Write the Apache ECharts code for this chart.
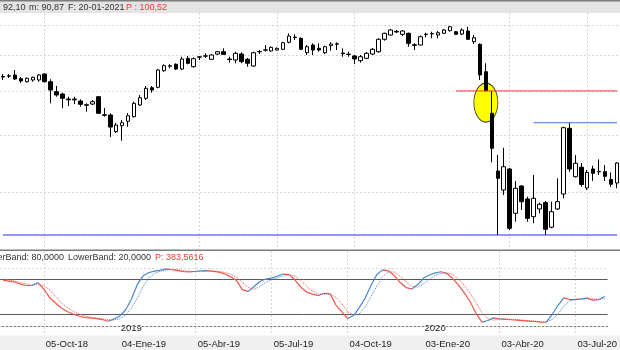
<!DOCTYPE html>
<html><head><meta charset="utf-8">
<script src="https://cdn.jsdelivr.net/npm/echarts@6/dist/echarts.min.js"></script>
<style>html,body{margin:0;padding:0;background:#fff}#c{width:620px;height:350px}</style>
</head><body><div id="c"></div>
<script>
// ---- categories: weekly bars, 17-Aug-2018 .. 07-Aug-2020 ----
const firstWeek = [2018, 7, 17];
const weekCount = 104;
const dates = [];
for (let i = 0; i < weekCount; i++) {
  dates.push(new Date(Date.UTC(firstWeek[0], firstWeek[1], firstWeek[2] + 7 * i)).toISOString().slice(0, 10));
}
const monthNames = ['Ene','Feb','Mar','Abr','May','Jun','Jul','Ago','Sep','Oct','Nov','Dic'];

// ---- price candles (weekly) ----
const openP = [53.90,53.98,54.31,53.30,52.49,52.95,52.95,54.58,52.49,49.90,49.31,48.07,48.07,47.59,46.69,46.86,48.64,44.37,44.33,40.73,
41.98,42.94,43.95,46.64,48.24,50.91,51.02,55.50,56.79,57.34,55.98,59.11,56.65,59.44,59.75,58.82,60.41,61.13,58.91,58.61,
60.41,58.82,56.85,61.10,61.60,61.35,61.66,61.88,64.12,65.69,65.43,60.81,63.24,62.19,60.81,63.02,63.50,60.72,60.26,59.81,
58.40,59.11,60.41,61.13,65.10,66.53,67.77,66.77,67.11,63.34,63.24,66.70,66.91,66.53,67.11,68.01,67.66,66.87,67.90,64.31,
63.46,55.22,44.71,33.36,30.29,33.70,26.91,30.91,28.94,26.45,27.51,28.41,25.07,27.51,29.68,41.44,32.41,34.00,30.60,33.70,
33.28,33.24,31.95,31.39];
const closeP = [53.76,54.09,53.22,52.68,53.41,53.68,54.31,52.49,50.33,49.06,48.24,47.87,47.87,46.81,46.57,47.42,44.71,44.29,41.70,42.13,
42.62,44.17,47.03,48.39,50.76,50.33,55.70,56.94,56.91,55.98,58.91,57.63,58.99,59.56,59.87,60.11,61.13,60.32,58.73,60.63,
58.11,57.63,60.81,61.16,61.72,62.50,62.19,63.98,66.19,65.83,61.88,62.70,61.66,61.66,62.70,63.56,63.62,60.50,60.38,58.91,
59.59,60.63,61.88,65.10,67.11,68.25,67.56,67.90,63.78,63.14,65.96,66.84,67.04,67.31,68.25,69.40,66.77,68.25,65.10,65.63,
54.31,50.15,37.43,32.14,34.09,24.94,30.55,28.54,26.23,29.04,28.17,24.81,27.13,28.55,41.56,33.70,34.69,31.15,33.11,32.97,
33.21,32.47,31.20,34.74];
const lowP = [52.95,53.49,52.95,52.15,52.28,52.49,52.49,52.33,47.03,48.64,45.86,46.40,46.86,46.24,45.08,46.64,44.56,43.95,39.65,40.46,
38.90,41.77,43.77,46.40,47.83,49.64,50.76,55.22,56.19,55.70,55.70,57.34,56.37,58.61,59.20,58.61,60.11,60.11,57.81,57.63,
57.63,56.65,56.65,60.41,61.13,61.19,61.50,61.66,63.78,64.87,61.66,60.11,60.11,61.13,60.41,61.44,61.66,59.59,59.59,57.43,
57.81,58.91,60.11,60.81,64.64,66.36,67.22,66.19,62.70,61.66,63.08,65.76,65.43,65.43,66.87,67.73,66.53,66.53,64.87,63.56,
52.95,49.95,34.86,24.10,29.53,24.72,25.79,27.37,25.79,25.58,26.91,24.10,24.94,27.37,29.04,33.19,32.28,30.80,30.29,31.71,
32.69,31.71,30.80,30.55];
const highP = [54.58,54.58,55.70,53.76,53.62,53.84,54.58,54.78,53.14,51.36,49.64,48.64,48.64,47.99,47.04,47.83,48.81,45.93,44.71,42.56,
43.22,44.78,47.42,49.06,51.36,51.36,55.98,57.34,57.34,57.63,59.59,59.81,59.41,59.81,60.63,60.41,61.35,62.19,59.59,61.13,
60.94,59.20,61.13,61.66,63.24,62.76,62.44,64.31,67.11,66.77,65.76,63.24,63.78,63.78,63.02,64.12,64.12,62.19,61.13,60.11,
60.11,61.04,62.28,65.43,67.31,68.60,68.25,68.25,67.38,63.78,66.36,67.31,67.66,67.90,68.60,69.65,67.90,68.84,69.40,66.53,
63.78,57.63,50.08,36.18,37.54,33.87,31.71,31.07,29.28,32.69,28.41,28.65,28.55,32.14,41.77,42.62,36.18,34.74,33.53,34.27,
35.39,34.39,33.11,34.86];

// ---- stochastic oscillator (lower panel) ----
const stochK = [79.2,77.5,75.8,72.3,69.4,70.3,74.9,63.8,49.2,39.8,31.2,25.2,20.9,17.5,14.9,14.2,13.2,11.5,8.6,12.3,
17.5,27.8,46.6,71.5,86.4,92.1,94.6,96.3,98.4,96.9,95.5,93.4,93.3,94.3,94.8,95.5,94.1,92.9,89.5,84.7,
78.3,62.4,59.8,68.1,76.6,80.9,82.6,86.1,89.5,88.6,79.2,66.9,58.6,55.0,52.6,56.6,55.5,36.3,25.2,13.2,
18.3,32.1,48.3,69.8,88.6,96.7,94.8,86.9,74.9,66.3,63.8,71.5,82.6,87.8,91.5,93.4,90.3,81.8,70.6,56.9,
41.5,21.8,7.2,9.8,14.4,12.7,11.8,11.1,10.5,9.8,8.9,8.1,7.0,6.9,20.1,35.5,48.7,45.8,45.8,47.0,
48.3,44.9,45.8,50.9];
const stochD = [81.0,79.5,77.5,75.0,72.5,70.5,71.5,69.5,62.6,50.9,40.1,32.1,25.8,21.2,17.8,15.5,14.1,13.0,11.1,10.8,
12.8,19.2,30.6,48.6,68.2,83.3,91.0,94.3,96.4,97.2,96.9,95.3,94.1,93.7,94.1,94.9,94.8,94.2,92.2,89.0,
84.2,75.0,66.6,63.2,68.1,75.2,80.0,83.2,86.1,88.1,85.8,78.2,68.2,60.2,55.4,54.7,54.9,49.5,39.0,24.9,
18.9,21.2,32.9,50.1,68.9,85.0,93.4,92.8,85.5,76.0,68.3,67.2,72.6,80.6,87.3,90.9,91.7,88.5,80.9,69.8,
56.3,40.1,23.5,12.9,10.5,12.3,13.0,11.9,11.1,10.5,9.7,8.9,8.0,7.3,11.3,20.8,34.8,43.3,46.8,46.2,
47.0,46.7,46.3,47.2];

// ---- reference levels ----
const priceGridLevels = [70, 60, 50, 40, 30];
const bandLevels = [20, 80];
const boundLevels = [0, 100];
const supportLevel = 24.10;
const redLevel = 50.08, redStart = '2020-01-31';
const blueLevel = 42.62, blueStart = '2020-05-01';
const highlight = { date: '2020-03-06', value: 47.22 };

// ---- helpers ----
const isQuarter = i => i >= 7 && (i - 7) % 13 === 0;
const isYearStart = i => dates[i].slice(5, 7) === '01' && +dates[i].slice(8, 10) <= 7;
const labelFn = i => isQuarter(i);
const gridFn = i => isQuarter(i) && !isYearStart(i);
const yearFn = i => isYearStart(i);
const fmtLabel = v => v.slice(8, 10) + '-' + monthNames[+v.slice(5, 7) - 1] + '-' + v.slice(2, 4);

const BLUE = '#4a86cc', RED = '#f0564a';
function slopePieces(vals) {
  const pieces = []; let cur = null;
  for (let i = 1; i < vals.length; i++) {
    const color = vals[i] >= vals[i - 1] ? BLUE : RED;
    if (cur && cur.color === color) cur.lte = i;
    else { cur = { gt: i - 1, lte: i, color }; pieces.push(cur); }
  }
  pieces[0].gte = 0; delete pieces[0].gt;
  return pieces;
}

const candles = dates.map((d, i) => [openP[i], closeP[i], lowP[i], highP[i]]);
const gridStyle = { color: '#d6d6d6', type: [2, 2], width: 1 };
const FONT = 'Liberation Sans';
const TXT = '9px "Liberation Sans"';

// horizontal level drawn as a flat line series from a start date to the last bar
function levelLine(level, startDate, color) {
  const s = dates.indexOf(startDate);
  return { type: 'line', xAxisIndex: 0, yAxisIndex: 0, z: 4, silent: true, showSymbol: false, symbol: 'none',
    data: dates.map((d, i) => (i >= s ? level : null)),
    lineStyle: { color: color, width: 1, type: 'solid' }, itemStyle: { color: color }, emphasis: { disabled: true } };
}

const chart = echarts.init(document.getElementById('c'), null, { renderer: 'canvas' });
chart.setOption({
  animation: false,
  textStyle: { fontFamily: FONT },
  grid: [
    { left: 0, right: 0, top: 13, height: 236 },
    { left: 0, right: 0, top: 251, height: 84 }
  ],
  xAxis: [
    { type: 'category', gridIndex: 0, data: dates, axisLine: { show: false }, axisTick: { show: false },
      axisLabel: { show: false }, splitLine: { show: true, alignWithLabel: true, interval: gridFn, lineStyle: gridStyle } },
    { type: 'category', gridIndex: 1, data: dates, position: 'bottom',
      axisLine: { lineStyle: { color: '#808080', width: 1 } },
      axisTick: { alignWithLabel: true, interval: labelFn, length: 7, lineStyle: { color: '#555' } },
      axisLabel: { interval: labelFn, formatter: fmtLabel, align: 'left', margin: 4, fontSize: 9.5, color: '#222', fontFamily: FONT, padding: [0, 0, 0, 2] },
      splitLine: { show: true, alignWithLabel: true, interval: gridFn, lineStyle: gridStyle } },
    { type: 'category', gridIndex: 1, data: dates, position: 'bottom', axisLine: { show: false },
      axisTick: { inside: true, alignWithLabel: true, interval: yearFn, length: 10, lineStyle: { color: '#555' } },
      axisLabel: { inside: true, interval: yearFn, formatter: v => v.slice(0, 4), align: 'left', verticalAlign: 'bottom',
        margin: 2, fontSize: 9.5, color: '#222', fontFamily: FONT, padding: [0, 0, 0, 1] },
      splitLine: { show: false } }
  ],
  yAxis: [
    { type: 'log', gridIndex: 0, min: 22.45, max: 74.40, show: false },
    { type: 'value', gridIndex: 1, min: -15, max: 129, show: false }
  ],
  visualMap: [
    { type: 'piecewise', show: false, seriesIndex: 2, dimension: 0, pieces: slopePieces(stochK) },
    { type: 'piecewise', show: false, seriesIndex: 3, dimension: 0, pieces: slopePieces(stochD) }
  ],
  series: [
    { type: 'scatter', xAxisIndex: 0, yAxisIndex: 0, z: 1, silent: true,
      data: [[highlight.date, highlight.value]], symbol: 'circle', symbolSize: [24, 39],
      itemStyle: { color: '#ffff00', borderColor: '#3a3a3a', borderWidth: 1, opacity: 1 },
      markLine: { z: 0, silent: true, symbol: 'none', label: { show: false }, lineStyle: gridStyle,
        data: priceGridLevels.map(v => ({ yAxis: v })) } },
    { type: 'candlestick', xAxisIndex: 0, yAxisIndex: 0, z: 3, barWidth: 4, data: candles,
      itemStyle: { color: '#ffffff', color0: '#000000', borderColor: '#000000', borderColor0: '#000000', borderWidth: 1 } },
    { type: 'line', xAxisIndex: 1, yAxisIndex: 1, z: 3, data: stochK, showSymbol: false, symbol: 'none',
      lineStyle: { width: 1.2 },
      markLine: { z: 2, silent: true, symbol: 'none', label: { show: false },
        data: boundLevels.map(v => ({ yAxis: v, lineStyle: gridStyle }))
          .concat(bandLevels.map(v => ({ yAxis: v, lineStyle: { color: '#5a5a5a', width: 1, type: 'solid' } }))) } },
    { type: 'line', xAxisIndex: 1, yAxisIndex: 1, z: 3, data: stochD, showSymbol: false, symbol: 'none',
      lineStyle: { width: 1, type: 'dotted' } },
    levelLine(supportLevel, dates[0], '#2828ff'),
    levelLine(redLevel, redStart, '#f03a3a'),
    levelLine(blueLevel, blueStart, '#3a78c8')
  ],
  graphic: [
    { type: 'rect', z: 0, silent: true, shape: { x: 0, y: 0, width: 620, height: 13 }, style: { fill: '#e4e4e4' } },
    { type: 'rect', z: 0, silent: true, shape: { x: 0, y: 0, width: 620, height: 1.5 }, style: { fill: '#7c7c7c' } },
    { type: 'rect', z: 0, silent: true, shape: { x: 0, y: 249.5, width: 620, height: 1.5 }, style: { fill: '#7c7c7c' } },
    { type: 'rect', z: -1, silent: true, shape: { x: 0, y: 335.5, width: 620, height: 15 }, style: { fill: '#f0f0f0' } },
    { type: 'text', z: 5, silent: true, x: 3, y: 7.5, style: { text: '92,10', fill: '#333', font: TXT, verticalAlign: 'middle' } },
    { type: 'text', z: 5, silent: true, x: 29, y: 7.5, style: { text: 'm: 90,87', fill: '#333', font: TXT, verticalAlign: 'middle' } },
    { type: 'text', z: 5, silent: true, x: 68, y: 7.5, style: { text: 'F: 20-01-2021', fill: '#333', font: TXT, verticalAlign: 'middle' } },
    { type: 'text', z: 5, silent: true, x: 126, y: 7.5, style: { text: 'P : 100,52', fill: '#f03a3a', font: TXT, verticalAlign: 'middle' } },
    { type: 'text', z: 5, silent: true, x: 64, y: 258, style: { text: 'UpperBand: 80,0000', fill: '#333', font: TXT, align: 'right', verticalAlign: 'middle' } },
    { type: 'text', z: 5, silent: true, x: 68, y: 258, style: { text: 'LowerBand: 20,0000', fill: '#333', font: TXT, verticalAlign: 'middle' } },
    { type: 'text', z: 5, silent: true, x: 155, y: 258, style: { text: 'P: 383,5616', fill: '#f03a3a', font: TXT, verticalAlign: 'middle' } }
  ]
});
</script></body></html>
